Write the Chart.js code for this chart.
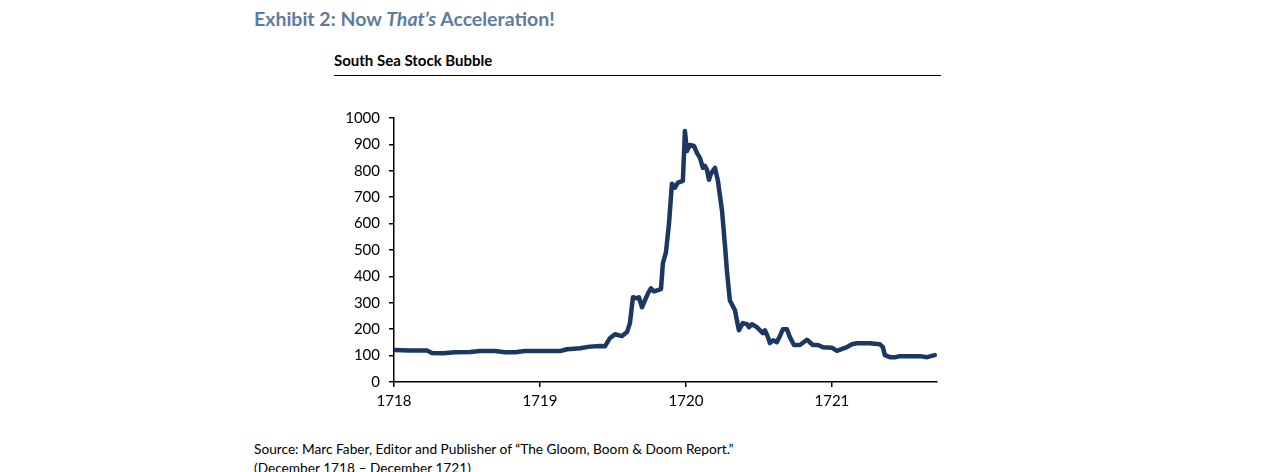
<!DOCTYPE html>
<html>
<head>
<meta charset="utf-8">
<script src="https://cdn.jsdelivr.net/npm/chart.js@4"></script>
<style>
  body { margin: 0; background: #fff; font-family: Lato, "Open Sans", sans-serif; }
  #title { position: absolute; left: 254px; top: 7px; font-size: 19.5px; font-weight: bold; color: #5d7d9c; }
  #subtitle { position: absolute; left: 334px; top: 51px; font-size: 15px; font-weight: bold; color: #000; }
  #rule { position: absolute; left: 334px; top: 75px; width: 607px; height: 0; border-top: 1.5px solid #000; }
  #box { position: absolute; left: 330px; top: 100px; width: 615px; height: 315px; }
  #source { position: absolute; left: 254px; top: 439px; font-size: 13.7px; line-height: 19px; color: #000; }
</style>
</head>
<body>
<div id="title">Exhibit 2: Now <i>That’s</i> Acceleration!</div>
<div id="subtitle">South Sea Stock Bubble</div>
<div id="rule"></div>
<div id="box"><canvas id="lineChart"></canvas></div>
<div id="source">Source: Marc Faber, Editor and Publisher of “The Gloom, Boom &amp; Doom Report.”<br>(December 1718 – December 1721)</div>
<script>
// South Sea Company stock price
const years = [
    1718.000, 1718.110, 1718.226, 1718.260, 1718.336, 1718.418, 1718.521, 1718.589, 1718.692, 1718.760,
    1718.829, 1718.897, 1719.034, 1719.137, 1719.185, 1719.274, 1719.342, 1719.411, 1719.445, 1719.479,
    1719.514, 1719.562, 1719.596, 1719.616, 1719.637, 1719.664, 1719.678, 1719.699, 1719.719, 1719.740,
    1719.760, 1719.781, 1719.829, 1719.842, 1719.863, 1719.884, 1719.904, 1719.925, 1719.945, 1719.979,
    1719.993, 1720.007, 1720.027, 1720.055, 1720.075, 1720.096, 1720.116, 1720.130, 1720.144, 1720.158,
    1720.171, 1720.199, 1720.219, 1720.247, 1720.267, 1720.281, 1720.301, 1720.336, 1720.349, 1720.363,
    1720.390, 1720.418, 1720.432, 1720.452, 1720.486, 1720.507, 1720.527, 1720.541, 1720.562, 1720.575,
    1720.596, 1720.623, 1720.644, 1720.664, 1720.692, 1720.712, 1720.740, 1720.781, 1720.829, 1720.870,
    1720.904, 1720.938, 1721.000, 1721.034, 1721.103, 1721.137, 1721.171, 1721.260, 1721.295, 1721.329,
    1721.349, 1721.363, 1721.397, 1721.432, 1721.466, 1721.534, 1721.603, 1721.651, 1721.705
];
const prices = [
    121, 119, 119, 110, 109, 113, 114, 117, 117, 113,
    113, 117, 117, 117, 124, 128, 134, 136, 135, 166,
    181, 174, 189, 222, 321, 317, 321, 283, 309, 336,
    355, 343, 352, 449, 491, 600, 751, 736, 755, 762,
    951, 875, 898, 894, 868, 849, 811, 819, 804, 766,
    789, 811, 762, 650, 520, 420, 309, 272, 234, 196,
    223, 219, 208, 219, 208, 196, 185, 196, 170, 147,
    158, 151, 174, 200, 200, 170, 140, 140, 160, 140,
    140, 132, 130, 118, 132, 143, 147, 147, 145, 143,
    132, 102, 94, 94, 98, 98, 98, 94, 102
];
const yearTicks = [1718, 1719, 1720, 1721];

const points = years.map((y, i) => ({ x: y, y: prices[i] }));

const ctx = document.getElementById("lineChart").getContext("2d");
new Chart(ctx, {
    type: "line",
    data: {
        datasets: [
            {
                label: "South Sea Stock",
                data: points,
                borderColor: "#1c3862",
                borderWidth: 4.5,
                borderJoinStyle: "round",
                borderCapStyle: "round",
                pointRadius: 0,
                tension: 0,
                fill: false,
            },
        ],
    },
    options: {
        responsive: true,
        maintainAspectRatio: false,
        animation: false,
        layout: { padding: { top: 7, right: 8, left: 0, bottom: 0 } },
        plugins: { legend: { display: false }, tooltip: { enabled: false } },
        scales: {
            x: {
                type: "linear",
                min: 1718,
                max: 1721.72,
                afterBuildTicks: (scale) => {
                    scale.ticks = yearTicks.map(v => ({ value: v }));
                },
                afterFit: (scale) => { scale.height = 33; },
                ticks: {
                    color: "#000",
                    padding: 5,
                    maxRotation: 0,
                    font: { family: "Lato", size: 15 },
                    callback: (v) => String(v),
                },
                grid: { drawOnChartArea: false, drawTicks: true, tickLength: 5, color: "#000", lineWidth: 1.5 },
                border: { display: true, color: "#000", width: 1.5 },
            },
            y: {
                min: 0,
                max: 1000,
                afterFit: (scale) => { scale.width = 64; },
                ticks: {
                    stepSize: 100,
                    color: "#000",
                    padding: 9,
                    font: { family: "Lato", size: 15 },
                    callback: (v) => String(v),
                },
                grid: { drawOnChartArea: false, drawTicks: true, tickLength: 5, color: "#000", lineWidth: 1.5 },
                border: { display: true, color: "#000", width: 1.5 },
            },
        },
    },
});
</script>
</body>
</html>
